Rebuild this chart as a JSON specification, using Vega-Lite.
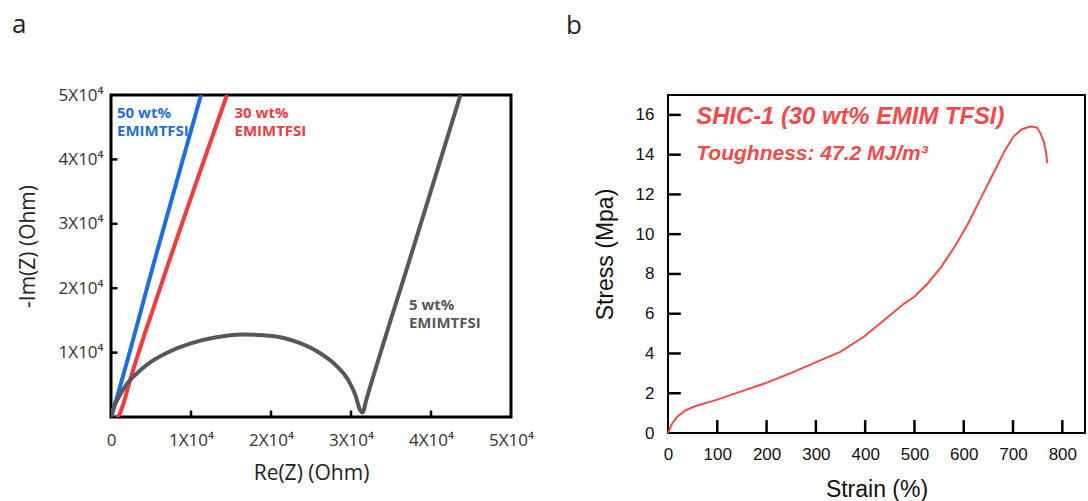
{
  "$schema": "https://vega.github.io/schema/vega-lite/v6.json",
  "background": "white",
  "padding": {"left": 10, "top": 10, "right": 4, "bottom": 4},
  "config": {
    "axis": {"domain": false, "grid": false, "ticks": false, "labelFlush": false, "titleFontWeight": "normal"}
  },
  "bounds": "flush",
  "spacing": 157,
  "hconcat": [
    {
      "width": 400,
      "height": 322,
      "view": {"stroke": "black", "strokeWidth": 3},
      "title": {"text": "a", "anchor": "start", "frame": "group", "dx": -99, "offset": 27, "baseline": "alphabetic", "font": "Open Sans", "fontSize": 26, "fontWeight": "normal", "color": "#222"},
      "layer": [
        {
          "data": {"values": [
            {"series": "50 wt%", "re": 0, "im": 0},
            {"series": "50 wt%", "re": 150, "im": 600},
            {"series": "50 wt%", "re": 5600, "im": 25000},
            {"series": "50 wt%", "re": 11250, "im": 50000},
            {"series": "30 wt%", "re": 600, "im": 0},
            {"series": "30 wt%", "re": 950, "im": 200},
            {"series": "30 wt%", "re": 1400, "im": 1500},
            {"series": "30 wt%", "re": 2400, "im": 5800},
            {"series": "30 wt%", "re": 6000, "im": 19500},
            {"series": "30 wt%", "re": 14500, "im": 50000},
            {"series": "5 wt%", "re": 100, "im": 300},
            {"series": "5 wt%", "re": 311, "im": 1295},
            {"series": "5 wt%", "re": 979, "im": 3109},
            {"series": "5 wt%", "re": 1868, "im": 4922},
            {"series": "5 wt%", "re": 3203, "im": 6736},
            {"series": "5 wt%", "re": 4982, "im": 8549},
            {"series": "5 wt%", "re": 7206, "im": 10104},
            {"series": "5 wt%", "re": 9875, "im": 11399},
            {"series": "5 wt%", "re": 12990, "im": 12332},
            {"series": "5 wt%", "re": 16548, "im": 12798},
            {"series": "5 wt%", "re": 20107, "im": 12591},
            {"series": "5 wt%", "re": 23220, "im": 11658},
            {"series": "5 wt%", "re": 25890, "im": 10104},
            {"series": "5 wt%", "re": 28114, "im": 8031},
            {"series": "5 wt%", "re": 29671, "im": 5699},
            {"series": "5 wt%", "re": 30560, "im": 3368},
            {"series": "5 wt%", "re": 31139, "im": 1036},
            {"series": "5 wt%", "re": 31450, "im": 700},
            {"series": "5 wt%", "re": 31895, "im": 2591},
            {"series": "5 wt%", "re": 37800, "im": 26300},
            {"series": "5 wt%", "re": 43683, "im": 50000}
          ]},
          "mark": {"type": "line", "strokeWidth": 4, "interpolate": "monotone", "clip": true},
          "encoding": {
            "x": {"field": "re", "type": "quantitative",
              "scale": {"domain": [0, 50000], "nice": false},
              "axis": {"title": "Re(Z) (Ohm)", "values": [0, 10000, 20000, 30000, 40000, 50000],
                "labelExpr": "datum.value == 0 ? '0' : (datum.value / 10000) + 'X10⁴'",
                "labelPadding": 23, "labelBaseline": "middle",
                "labelFont": "Open Sans", "labelFontSize": 17, "labelColor": "#333",
                "titleFont": "Open Sans", "titleFontSize": 21, "titleColor": "#222", "titleY": 56, "titleBaseline": "middle"}},
            "y": {"field": "im", "type": "quantitative",
              "scale": {"domain": [0, 50000], "nice": false},
              "axis": {"title": "-Im(Z) (Ohm)", "values": [10000, 20000, 30000, 40000, 50000],
                "labelExpr": "(datum.value / 10000) + 'X10⁴'",
                "labelPadding": 8,
                "labelFont": "Open Sans", "labelFontSize": 17, "labelColor": "#333",
                "titleFont": "Open Sans", "titleFontSize": 21, "titleColor": "#222", "titleX": -83, "titleY": 151, "titleBaseline": "middle"}},
            "color": {"field": "series", "type": "nominal",
              "scale": {"domain": ["50 wt%", "30 wt%", "5 wt%"], "range": ["#1e6ee1", "#f03c3c", "#585858"]},
              "legend": null}
          }
        },
        {
          "data": {"values": [{"tick": 10000}, {"tick": 20000}, {"tick": 30000}, {"tick": 40000}]},
          "mark": {"type": "rule", "color": "black", "strokeWidth": 2.5},
          "encoding": {
            "x": {"field": "tick", "type": "quantitative"},
            "y": {"datum": 0},
            "y2": {"datum": 1000}
          }
        },
        {
          "data": {"values": [{"tick": 10000}, {"tick": 20000}, {"tick": 30000}, {"tick": 40000}]},
          "mark": {"type": "rule", "color": "black", "strokeWidth": 2.5},
          "encoding": {
            "y": {"field": "tick", "type": "quantitative"},
            "x": {"datum": 0},
            "x2": {"datum": 800}
          }
        },
        {
          "data": {"values": [
            {"series": "50 wt%", "label": "50 wt%\nEMIMTFSI", "re": 750, "im": 48300},
            {"series": "30 wt%", "label": "30 wt%\nEMIMTFSI", "re": 15440, "im": 48300},
            {"series": "5 wt%", "label": "5 wt%\nEMIMTFSI", "re": 37240, "im": 18530}
          ]},
          "mark": {"type": "text", "align": "left", "baseline": "top", "lineBreak": "\n", "lineHeight": 18, "font": "Open Sans", "fontSize": 15, "fontWeight": "bold"},
          "encoding": {
            "x": {"field": "re", "type": "quantitative"},
            "y": {"field": "im", "type": "quantitative"},
            "text": {"field": "label"},
            "color": {"field": "series", "type": "nominal", "legend": null}
          }
        }
      ]
    },
    {
      "width": 417,
      "height": 338,
      "view": {"stroke": "black", "strokeWidth": 2},
      "title": {"text": "b", "anchor": "start", "frame": "group", "dx": -102, "offset": 35, "baseline": "alphabetic", "font": "Open Sans", "fontSize": 26, "fontWeight": "normal", "color": "#222"},
      "layer": [
        {
          "data": {"values": [
            {"strain": 0, "stress": 0},
            {"strain": 8.2, "stress": 0.47},
            {"strain": 18.4, "stress": 0.81},
            {"strain": 35.5, "stress": 1.14},
            {"strain": 56, "stress": 1.36},
            {"strain": 100, "stress": 1.68},
            {"strain": 151.5, "stress": 2.12},
            {"strain": 199.3, "stress": 2.52},
            {"strain": 247, "stress": 2.99},
            {"strain": 301.7, "stress": 3.58},
            {"strain": 349.5, "stress": 4.08},
            {"strain": 397.3, "stress": 4.84},
            {"strain": 438.2, "stress": 5.67},
            {"strain": 479.2, "stress": 6.51},
            {"strain": 499.7, "stress": 6.85},
            {"strain": 527, "stress": 7.52},
            {"strain": 554.3, "stress": 8.36},
            {"strain": 581.6, "stress": 9.37},
            {"strain": 608.9, "stress": 10.54},
            {"strain": 636.2, "stress": 11.89},
            {"strain": 663.5, "stress": 13.23},
            {"strain": 684, "stress": 14.24},
            {"strain": 701, "stress": 14.91},
            {"strain": 718, "stress": 15.28},
            {"strain": 735, "stress": 15.41},
            {"strain": 748.8, "stress": 15.36},
            {"strain": 755.6, "stress": 15.08},
            {"strain": 762.4, "stress": 14.66},
            {"strain": 767.2, "stress": 14.07},
            {"strain": 769.3, "stress": 13.57}
          ]},
          "mark": {"type": "line", "strokeWidth": 2, "color": "#f24a4a"},
          "encoding": {
            "x": {"field": "strain", "type": "quantitative",
              "scale": {"domain": [0, 846], "nice": false},
              "axis": {"title": "Strain (%)", "values": [0, 100, 200, 300, 400, 500, 600, 700, 800],
                "labelPadding": 21, "labelBaseline": "middle",
                "labelFont": "Liberation Sans", "labelFontSize": 17, "labelColor": "#111",
                "titleFont": "Liberation Sans", "titleFontSize": 23, "titleColor": "#111", "titleY": 56, "titleBaseline": "middle"}},
            "y": {"field": "stress", "type": "quantitative",
              "scale": {"domain": [0, 17], "nice": false},
              "axis": {"title": "Stress (Mpa)", "values": [0, 2, 4, 6, 8, 10, 12, 14, 16],
                "labelPadding": 14,
                "labelFont": "Liberation Sans", "labelFontSize": 17, "labelColor": "#111",
                "titleFont": "Liberation Sans", "titleFontSize": 23, "titleColor": "#111", "titleX": -63, "titleY": 159, "titleBaseline": "middle"}}
          }
        },
        {
          "data": {"values": [{"tick": 100}, {"tick": 200}, {"tick": 300}, {"tick": 400}, {"tick": 500}, {"tick": 600}, {"tick": 700}, {"tick": 800}]},
          "mark": {"type": "rule", "color": "black", "strokeWidth": 2.5},
          "encoding": {
            "x": {"field": "tick", "type": "quantitative"},
            "y": {"datum": 0},
            "y2": {"datum": 0.65}
          }
        },
        {
          "data": {"values": [{"tick": 2}, {"tick": 4}, {"tick": 6}, {"tick": 8}, {"tick": 10}, {"tick": 12}, {"tick": 14}, {"tick": 16}]},
          "mark": {"type": "rule", "color": "black", "strokeWidth": 2.5},
          "encoding": {
            "y": {"field": "tick", "type": "quantitative"},
            "x": {"datum": 0},
            "x2": {"datum": 26}
          }
        },
        {
          "data": {"values": [{"label": "SHIC-1 (30 wt% EMIM TFSI)", "strain": 57.4, "stress": 15.88}]},
          "mark": {"type": "text", "align": "left", "baseline": "middle", "font": "Liberation Sans", "fontSize": 23.8, "fontWeight": "bold", "fontStyle": "italic", "color": "#f24a4a"},
          "encoding": {
            "x": {"field": "strain", "type": "quantitative"},
            "y": {"field": "stress", "type": "quantitative"},
            "text": {"field": "label"}
          }
        },
        {
          "data": {"values": [{"label": "Toughness: 47.2 MJ/m³", "strain": 57.4, "stress": 14.04}]},
          "mark": {"type": "text", "align": "left", "baseline": "middle", "font": "Liberation Sans", "fontSize": 21, "fontWeight": "bold", "fontStyle": "italic", "color": "#f24a4a"},
          "encoding": {
            "x": {"field": "strain", "type": "quantitative"},
            "y": {"field": "stress", "type": "quantitative"},
            "text": {"field": "label"}
          }
        }
      ]
    }
  ]
}
